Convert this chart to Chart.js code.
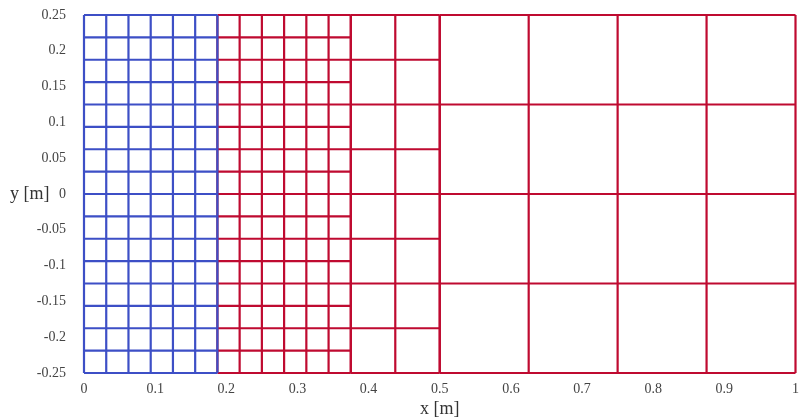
<!DOCTYPE html>
<html>
<head>
<meta charset="utf-8">
<script src="https://cdn.jsdelivr.net/npm/chart.js@4"></script>
<style>
  html, body { margin: 0; padding: 0; background: #fff; }
  #wrap { width: 799px; height: 417px; }
</style>
</head>
<body>
<div id="wrap"><canvas id="meshChart"></canvas></div>
<script>
  // mesh node coordinates of each block [m]
  const blueX = [0, 0.03125, 0.0625, 0.09375, 0.125, 0.15625, 0.1875];
  const fineY = [-0.25, -0.21875, -0.1875, -0.15625, -0.125, -0.09375, -0.0625, -0.03125, 0,
    0.03125, 0.0625, 0.09375, 0.125, 0.15625, 0.1875, 0.21875, 0.25];
  const redFineX = [0.1875, 0.21875, 0.25, 0.28125, 0.3125, 0.34375, 0.375];
  const redMidX = [0.375, 0.4375, 0.5];
  const midY = [-0.25, -0.1875, -0.125, -0.0625, 0, 0.0625, 0.125, 0.1875, 0.25];
  const redCoarseX = [0.5, 0.625, 0.75, 0.875, 1];
  const coarseY = [-0.25, -0.125, 0, 0.125, 0.25];

  const xTicks = [0, 0.1, 0.2, 0.3, 0.4, 0.5, 0.6, 0.7, 0.8, 0.9, 1];
  const yTicks = [-0.25, -0.2, -0.15, -0.1, -0.05, 0, 0.05, 0.1, 0.15, 0.2, 0.25];

  const blue = "#3d4fc6";
  const red = "#bf0a30";

  // vertical and horizontal lines of one block, separated by gaps
  function meshLines(xs, ys) {
    const pts = [];
    xs.forEach(function (x) {
      pts.push({ x: x, y: ys[0] }, { x: x, y: ys[ys.length - 1] }, { x: x, y: null });
    });
    ys.forEach(function (y) {
      pts.push({ x: xs[0], y: y }, { x: xs[xs.length - 1], y: y }, { x: xs[0], y: null });
    });
    return pts;
  }

  function block(xs, ys, color) {
    return {
      data: meshLines(xs, ys),
      showLine: true,
      spanGaps: false,
      borderColor: color,
      borderWidth: 2.2,
      pointRadius: 0,
      pointHoverRadius: 0,
      clip: false,
    };
  }

  // axis titles, both drawn horizontally
  const axisTitles = {
    id: "axisTitles",
    afterDraw: function (chart) {
      const c = chart.ctx;
      const area = chart.chartArea;
      c.save();
      c.fillStyle = "#333";
      c.font = "18px 'Liberation Serif'";
      c.textBaseline = "middle";
      c.textAlign = "left";
      c.fillText("y [m]", 10, (area.top + area.bottom) / 2);
      c.textAlign = "center";
      c.fillText("x [m]", (area.left + area.right) / 2, 409);
      c.restore();
    },
  };

  const tickFont = { family: "'Liberation Serif'", size: 14 };
  const plain = function (v) { return String(v); };

  new Chart(document.getElementById("meshChart"), {
    type: "scatter",
    data: {
      datasets: [
        block(blueX, fineY, blue),
        block(redFineX, fineY, red),
        block(redMidX, midY, red),
        block(redCoarseX, coarseY, red),
      ],
    },
    options: {
      responsive: true,
      maintainAspectRatio: false,
      animation: false,
      events: [],
      layout: { padding: { top: 15, right: -4, left: 0, bottom: 0 } },
      plugins: {
        legend: { display: false },
        tooltip: { enabled: false },
      },
      scales: {
        x: {
          type: "linear",
          min: 0,
          max: 1,
          afterBuildTicks: function (scale) {
            scale.ticks = xTicks.map(function (v) { return { value: v }; });
          },
          afterFit: function (scale) { scale.height = 44; },
          grid: { display: false },
          border: { display: false },
          ticks: { font: tickFont, color: "#444", padding: 0, maxRotation: 0, callback: plain },
          title: { display: false },
        },
        y: {
          type: "linear",
          min: -0.25,
          max: 0.25,
          afterBuildTicks: function (scale) {
            scale.ticks = yTicks.map(function (v) { return { value: v }; });
          },
          afterFit: function (scale) {
            scale.width = 84;
            scale.paddingTop = 0;
            scale.paddingBottom = 0;
          },
          grid: { display: false },
          border: { display: false },
          ticks: { font: tickFont, color: "#444", padding: 10, callback: plain },
        },
      },
    },
    plugins: [axisTitles],
  });
</script>
</body>
</html>
